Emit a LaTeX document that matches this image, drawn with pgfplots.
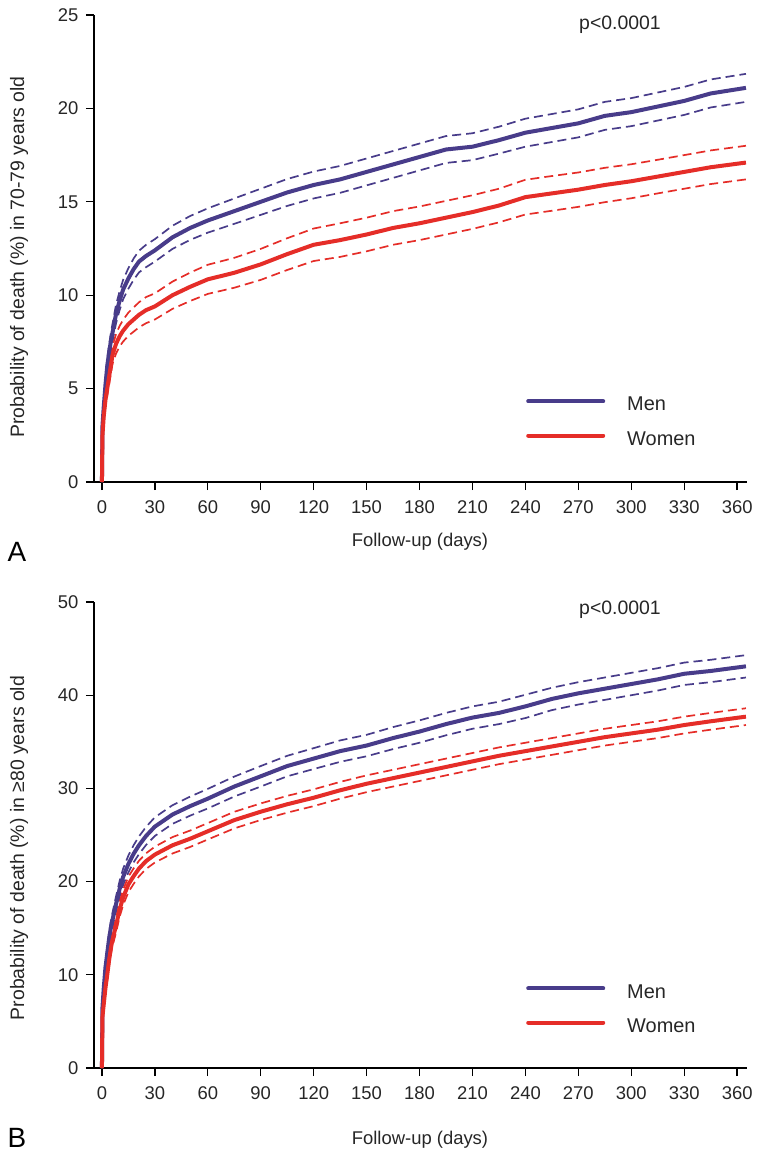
\documentclass[border=0pt]{standalone}
\usepackage{fontspec}
\setmainfont{Liberation Sans}
\usepackage{pgfplots}
\usepackage{pgfplotstable}
\pgfplotsset{compat=1.18}
\definecolor{men}{RGB}{72,60,138}
\definecolor{women}{RGB}{229,45,40}

\pgfplotstableread{
t m mlo mhi w wlo whi
0 0 0 0 0 0 0
0.3 3.0 2.8 3.2 2.5 2.3 2.7
1 4.0 3.7 4.3 3.5 3.2 3.8
2 5.2 4.85 5.55 4.4 4.05 4.75
3 6.2 5.8 6.6 5.0 4.6 5.4
4 6.9 6.48 7.32 5.6 5.17 6.03
5 7.5 7.05 7.95 6.2 5.75 6.65
6 8.0 7.53 8.47 6.8 6.32 7.28
8 9.0 8.5 9.5 7.4 6.88 7.92
10 9.7 9.2 10.2 7.8 7.25 8.35
12 10.3 9.78 10.82 8.1 7.52 8.68
15 10.9 10.35 11.45 8.45 7.83 9.07
18 11.4 10.83 11.97 8.7 8.05 9.35
21 11.8 11.22 12.38 8.95 8.28 9.62
25 12.1 11.5 12.7 9.2 8.5 9.9
30 12.4 11.8 13.0 9.4 8.7 10.1
40 13.1 12.48 13.72 10.0 9.27 10.73
50 13.6 12.96 14.24 10.45 9.69 11.21
60 14.0 13.35 14.65 10.85 10.07 11.63
75 14.5 13.82 15.18 11.2 10.4 12.0
90 15.0 14.3 15.7 11.65 10.82 12.48
105 15.5 14.78 16.22 12.2 11.35 13.05
120 15.9 15.18 16.62 12.7 11.83 13.57
135 16.2 15.48 16.92 12.95 12.05 13.85
150 16.6 15.88 17.32 13.25 12.35 14.15
165 17.0 16.28 17.72 13.6 12.7 14.5
180 17.4 16.68 18.12 13.85 12.95 14.75
195 17.8 17.08 18.52 14.15 13.25 15.05
210 17.95 17.23 18.67 14.45 13.55 15.35
225 18.3 17.58 19.02 14.8 13.9 15.7
240 18.7 17.95 19.45 15.25 14.32 16.18
255 18.95 18.2 19.7 15.45 14.52 16.38
270 19.2 18.45 19.95 15.65 14.73 16.57
285 19.6 18.85 20.35 15.9 14.98 16.82
300 19.8 19.05 20.55 16.1 15.19 17.01
315 20.1 19.35 20.85 16.35 15.45 17.25
330 20.4 19.65 21.15 16.6 15.7 17.5
345 20.8 20.05 21.55 16.85 15.95 17.75
365 21.1 20.35 21.85 17.1 16.2 18.0
}\tabA

\pgfplotstableread{
t m mlo mhi w wlo whi
0 0 0 0 0 0 0
0.3 6.5 6.2 6.8 5.5 5.2 5.8
1 8.5 8.0 9.0 6.8 6.35 7.25
2 10.8 10.2 11.4 8.6 8.05 9.15
3 12.3 11.65 12.95 10.0 9.4 10.6
4 13.8 13.1 14.5 11.5 10.85 12.15
5 15.0 14.25 15.75 12.8 12.1 13.5
6 15.9 15.12 16.68 13.8 13.08 14.52
8 17.6 16.78 18.42 15.3 14.55 16.05
10 19.2 18.35 20.05 17.0 16.2 17.8
12 20.5 19.62 21.38 18.3 17.48 19.12
15 21.9 21.0 22.8 19.7 18.87 20.53
18 23.0 22.08 23.92 20.6 19.77 21.43
21 23.9 22.95 24.85 21.4 20.56 22.24
25 24.9 23.93 25.87 22.2 21.36 23.04
30 25.9 24.9 26.9 22.9 22.05 23.75
40 27.2 26.2 28.2 23.9 23.02 24.78
50 28.1 27.08 29.12 24.6 23.72 25.48
60 28.9 27.85 29.95 25.4 24.52 26.28
75 30.2 29.13 31.27 26.6 25.71 27.49
90 31.3 30.2 32.4 27.5 26.61 28.39
105 32.4 31.3 33.5 28.3 27.4 29.2
120 33.2 32.08 34.32 29.0 28.1 29.9
135 34.0 32.85 35.15 29.8 28.9 30.7
150 34.6 33.45 35.75 30.5 29.6 31.4
165 35.4 34.22 36.58 31.1 30.2 32.0
180 36.1 34.9 37.3 31.7 30.8 32.6
195 36.9 35.7 38.1 32.3 31.4 33.2
210 37.6 36.4 38.8 32.9 32.0 33.8
225 38.1 36.9 39.3 33.5 32.6 34.4
240 38.8 37.55 40.05 34.0 33.1 34.9
255 39.6 38.4 40.8 34.5 33.6 35.4
270 40.2 39.0 41.4 35.0 34.1 35.9
285 40.7 39.5 41.9 35.5 34.6 36.4
300 41.2 40.0 42.4 35.9 35.0 36.8
315 41.7 40.5 42.9 36.3 35.4 37.2
330 42.3 41.1 43.5 36.8 35.9 37.7
345 42.6 41.4 43.8 37.2 36.3 38.1
365 43.1 41.9 44.3 37.7 36.8 38.6
}\tabB

\pgfplotsset{
  km/.style={
    scale only axis, width=653bp,
    xmin=-4.5, xmax=365.6, ymin=0,
    axis x line*=bottom, axis y line*=left,
    axis line style={-, line width=1.3bp, black},
    tick align=outside, major tick length=8bp,
    every tick/.style={line width=1.3bp, black},
    xtick={0,30,...,360},
    tick label style={font=\fontsize{18.5}{20}\selectfont, text=black!85},
    xticklabel style={yshift=-7bp},
    yticklabel style={xshift=-4bp},
    /pgf/number format/assume math mode=true,
    legend cell align=left,
    legend style={draw=none, fill=none, anchor=north west,
      font=\fontsize{20}{22}\selectfont, row sep=19bp, column sep=22bp,
      nodes={inner sep=0pt, text=black!85}, inner sep=0pt},
    legend image code/.code={\draw[##1, line cap=round] (2bp,0.35em) -- (77bp,0.35em);},
  },
  solidm/.style={men, line width=4bp, line join=round},
  solidw/.style={women, line width=4bp, line join=round},
  dashm/.style={men, line width=1.7bp, dash pattern=on 9bp off 5bp},
  dashw/.style={women, line width=1.7bp, dash pattern=on 9bp off 5bp},
}

\begin{document}
\begin{tikzpicture}
\path[use as bounding box] (0,0) rectangle (764bp,-1161bp);

\begin{axis}[km, at={(94bp,-482bp)}, anchor=south west, height=467bp,
  ymax=25, ytick={0,5,...,25},
  legend style={at={(axis description cs:0.6616,0.182)}}]
\addplot[dashm, forget plot] table[x=t, y=mhi] {\tabA};
\addplot[dashm, forget plot] table[x=t, y=mlo] {\tabA};
\addplot[dashw, forget plot] table[x=t, y=whi] {\tabA};
\addplot[dashw, forget plot] table[x=t, y=wlo] {\tabA};
\addplot[solidm] table[x=t, y=m] {\tabA};
\addlegendentry{Men}
\addplot[solidw] table[x=t, y=w] {\tabA};
\addlegendentry{Women}
\end{axis}

\begin{axis}[km, at={(94bp,-1068bp)}, anchor=south west, height=466bp,
  ymax=50, ytick={0,10,...,50},
  legend style={at={(axis description cs:0.6616,0.180)}}]
\addplot[dashm, forget plot] table[x=t, y=mhi] {\tabB};
\addplot[dashm, forget plot] table[x=t, y=mlo] {\tabB};
\addplot[dashw, forget plot] table[x=t, y=whi] {\tabB};
\addplot[dashw, forget plot] table[x=t, y=wlo] {\tabB};
\addplot[solidm] table[x=t, y=m] {\tabB};
\addlegendentry{Men}
\addplot[solidw] table[x=t, y=w] {\tabB};
\addlegendentry{Women}
\end{axis}

\begin{scope}[every node/.style={text=black!85}]
\node[font=\fontsize{19.5}{22}\selectfont] at (620bp,-25bp) {p<0.0001};
\node[font=\fontsize{19.5}{22}\selectfont] at (620bp,-610bp) {p<0.0001};
\node[font=\fontsize{18.5}{22}\selectfont] at (420bp,-542bp) {Follow-up (days)};
\node[font=\fontsize{18.5}{22}\selectfont] at (420bp,-1140bp) {Follow-up (days)};
\node[font=\fontsize{19.5}{22}\selectfont, rotate=90] at (19bp,-257bp) {Probability of death (\%) in 70-79 years old};
\node[font=\fontsize{19.5}{22}\selectfont, rotate=90] at (19bp,-848bp) {Probability of death (\%) in ≥80 years old};
\node[font=\fontsize{28}{30}\selectfont, text=black] at (17bp,-552bp) {A};
\node[font=\fontsize{28}{30}\selectfont, text=black] at (17bp,-1138bp) {B};
\end{scope}
\end{tikzpicture}
\end{document}
